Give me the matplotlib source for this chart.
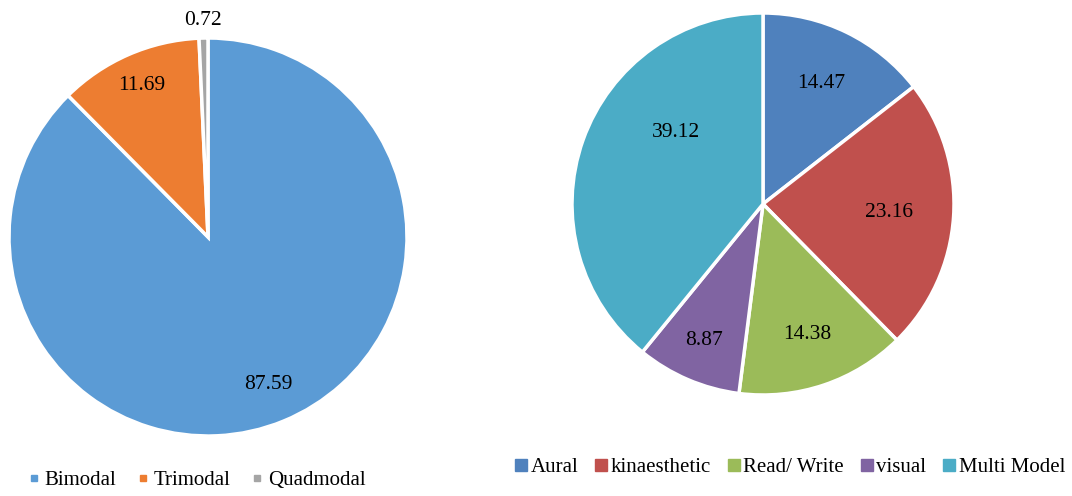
import numpy as np
import matplotlib.pyplot as plt
from matplotlib.lines import Line2D

plt.rcParams['font.family'] = ['Liberation Serif', 'DejaVu Serif']

# left pie: modality counts (%)
modal_labels = ["Bimodal", "Trimodal", "Quadmodal"]
modal_values = [87.59, 11.69, 0.72]
modal_colors = ["#5B9BD5", "#ED7D31", "#A5A5A5"]

# right pie: learning styles (%)
style_labels = ["Aural", "kinaesthetic", "Read/ Write", "visual", "Multi Model"]
style_values = [14.47, 23.16, 14.38, 8.87, 39.12]
style_colors = ["#4F81BD", "#C0504D", "#9BBB59", "#8064A2", "#4BACC6"]

W, H = 1072, 496
fig = plt.figure(figsize=(W / 100, H / 100), dpi=100)


def pie_axes(cx, cy, r):
    ax = fig.add_axes([(cx - r) / W, (H - cy - r) / H, 2 * r / W, 2 * r / H])
    ax.axis("off")
    return ax


def draw_pie(ax, values, colors, dists, shifts):
    wedges, _ = ax.pie(values, colors=colors, startangle=90, counterclock=False,
                       radius=1, wedgeprops=dict(edgecolor="white", linewidth=2.5))
    ax.set_xlim(-1, 1)
    ax.set_ylim(-1, 1)
    ax.set_aspect("equal")
    for w, v, d, s in zip(wedges, values, dists, shifts):
        ang = np.deg2rad((w.theta1 + w.theta2) / 2 + s)
        ax.text(d * np.cos(ang), d * np.sin(ang), f"{v:.2f}", ha="center",
                va="center", fontsize=15.5, clip_on=False)
    return wedges


ax1 = pie_axes(208, 237, 199)
draw_pie(ax1, modal_values, modal_colors, [0.80, 0.83, 1.09], [0, 0, 0])

ax2 = pie_axes(763, 204, 191)
draw_pie(ax2, style_values, style_colors, [0.70, 0.66, 0.72, 0.78, 0.59],
         [0, 0, 0, 0, -20])

h1 = [Line2D([], [], marker="s", ls="", color=c, markersize=5) for c in modal_colors]
fig.legend(h1, modal_labels, loc="center", bbox_to_anchor=(197 / W, 1 - 480 / H),
           ncol=3, frameon=False, fontsize=15, handlelength=0.5, handletextpad=0.25,
           columnspacing=1.05, borderaxespad=0, borderpad=0)

h2 = [Line2D([], [], marker="s", ls="", color=c, markersize=9) for c in style_colors]
fig.legend(h2, style_labels, loc="center", bbox_to_anchor=(790 / W, 1 - 467 / H),
           ncol=5, frameon=False, fontsize=15, handlelength=0.6, handletextpad=0.15,
           columnspacing=0.8, borderaxespad=0, borderpad=0)

fig.savefig("out.png", dpi=100)
